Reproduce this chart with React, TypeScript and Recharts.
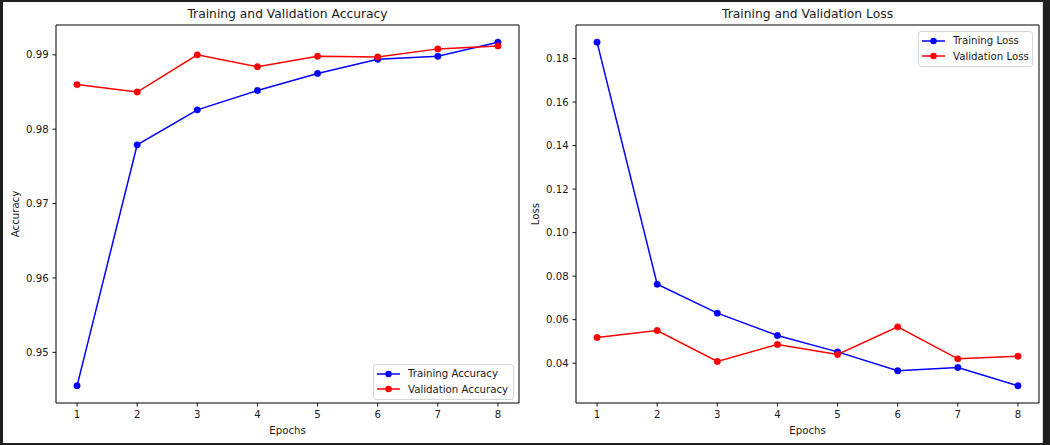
import { Line, LineChart, ReferenceArea, XAxis, YAxis } from "recharts";

const epochs = [1, 2, 3, 4, 5, 6, 7, 8];

const trainAcc = [0.9455, 0.9779, 0.9826, 0.9852, 0.9875, 0.9894, 0.9898, 0.9917];
const valAcc = [0.986, 0.985, 0.99, 0.9884, 0.9898, 0.9897, 0.9908, 0.9912];

const trainLoss = [0.1875, 0.0763, 0.063, 0.0527, 0.0452, 0.0365, 0.038, 0.0296];
const valLoss = [0.0518, 0.055, 0.0408, 0.0486, 0.044, 0.0567, 0.042, 0.0432];

const epochTicks = [1, 2, 3, 4, 5, 6, 7, 8];
const accTicks = [0.95, 0.96, 0.97, 0.98, 0.99];
const lossTicks = [0.04, 0.06, 0.08, 0.1, 0.12, 0.14, 0.16, 0.18];

const font = '"DejaVu Sans", sans-serif';
const ink = "#1a1a1a";
const trainColor = "#0000ff";
const valColor = "#ff0000";

// matplotlib style 5% margins
function pad(lo: number, hi: number): [number, number] {
  const m = (hi - lo) * 0.05;
  return [lo - m, hi + m];
}

function LegendBox({
  names,
  left,
  top,
  width,
}: {
  names: string[];
  left: number;
  top: number;
  width: number;
}) {
  const colors = [trainColor, valColor];
  return (
    <div
      style={{
        position: "absolute",
        left,
        top,
        width,
        boxSizing: "border-box",
        padding: "1px 0 2px 3px",
        background: "rgba(255,255,255,0.8)",
        border: "1px solid #d6d6d6",
        borderRadius: 3,
        fontSize: 10.2,
        color: ink,
      }}
    >
      {names.map((n, i) => (
        <div key={n} style={{ display: "flex", alignItems: "center", height: 15.5 }}>
          <svg width={23} height={10} style={{ marginRight: 8 }}>
            <line x1={0} y1={5} x2={23} y2={5} stroke={colors[i]} strokeWidth={1.5} />
            <circle cx={11.5} cy={5} r={3.2} fill={colors[i]} />
          </svg>
          <span style={{ whiteSpace: "nowrap" }}>{n}</span>
        </div>
      ))}
    </div>
  );
}

function Panel({
  left,
  title,
  ylabel,
  train,
  val,
  yTicks,
  names,
  legendPos,
}: {
  left: number;
  title: string;
  ylabel: string;
  train: number[];
  val: number[];
  yTicks: number[];
  names: string[];
  legendPos: { left: number; top: number; width: number };
}) {
  const data = epochs.map((e, i) => ({ epoch: e, train: train[i], val: val[i] }));
  const all = [...train, ...val];
  const yDomain = pad(Math.min(...all), Math.max(...all));
  const xDomain: [number, number] = [0.65, 8.35];
  const W = 525;
  const H = 445;
  const plotLeft = 56;
  const plotRight = W - 6;
  const cx = (plotLeft + plotRight) / 2;

  return (
    <div style={{ position: "absolute", left, top: 0, width: W, height: H }}>
      <LineChart width={W} height={H} data={data} margin={{ top: 25, right: 6, bottom: 12, left: 0 }}>
        <XAxis
          dataKey="epoch"
          type="number"
          domain={xDomain}
          ticks={epochTicks}
          height={30}
          tickSize={3.6}
          tickMargin={4}
          tick={{ fill: ink, fontSize: 10.2, fontFamily: font }}
          tickLine={{ stroke: "#000", strokeWidth: 0.9 }}
          axisLine={false}
          allowDataOverflow
        />
        <YAxis
          type="number"
          domain={yDomain}
          ticks={yTicks}
          width={56}
          tickSize={3.6}
          tickMargin={3.6}
          tickFormatter={(v: number) => v.toFixed(2)}
          tick={{ fill: ink, fontSize: 10.2, fontFamily: font }}
          tickLine={{ stroke: "#000", strokeWidth: 0.9 }}
          axisLine={false}
          allowDataOverflow
        />
        {/* axes frame (all four spines) */}
        <ReferenceArea
          x1={xDomain[0]}
          x2={xDomain[1]}
          y1={yDomain[0]}
          y2={yDomain[1]}
          fill="none"
          stroke="#000"
          strokeOpacity={1}
          strokeWidth={1}
          ifOverflow="visible"
        />
        <Line
          type="linear"
          dataKey="train"
          stroke={trainColor}
          strokeWidth={1.5}
          dot={{ r: 3.2, fill: trainColor, stroke: trainColor, strokeWidth: 0.5 }}
          activeDot={false}
          isAnimationActive={false}
        />
        <Line
          type="linear"
          dataKey="val"
          stroke={valColor}
          strokeWidth={1.5}
          dot={{ r: 3.2, fill: valColor, stroke: valColor, strokeWidth: 0.5 }}
          activeDot={false}
          isAnimationActive={false}
        />
      </LineChart>

      <div
        style={{
          position: "absolute",
          left: cx,
          top: 14,
          transform: "translate(-50%, -50%)",
          fontSize: 12.3,
          color: ink,
          whiteSpace: "nowrap",
        }}
      >
        {title}
      </div>
      <div
        style={{
          position: "absolute",
          left: 15,
          top: 214,
          transform: "translate(-50%, -50%) rotate(-90deg)",
          fontSize: 10.2,
          color: ink,
          whiteSpace: "nowrap",
        }}
      >
        {ylabel}
      </div>
      <div
        style={{
          position: "absolute",
          left: cx,
          top: 430,
          transform: "translate(-50%, -50%)",
          fontSize: 10.2,
          color: ink,
          whiteSpace: "nowrap",
        }}
      >
        Epochs
      </div>
      <LegendBox names={names} {...legendPos} />
    </div>
  );
}

export default function App() {
  return (
    <div
      style={{
        position: "absolute",
        left: 0,
        top: 0,
        width: 1050,
        height: 445,
        background: "#1f1f1f",
        fontFamily: font,
        overflow: "hidden",
      }}
    >
      <div
        style={{
          position: "absolute",
          left: 3,
          top: 2,
          width: 1039,
          height: 441,
          background: "#ffffff",
          borderRight: "1px solid #dcdcdc",
        }}
      />
      <Panel
        left={0}
        title="Training and Validation Accuracy"
        ylabel="Accuracy"
        train={trainAcc}
        val={valAcc}
        yTicks={accTicks}
        names={["Training Accuracy", "Validation Accuracy"]}
        legendPos={{ left: 373, top: 364, width: 141 }}
      />
      <Panel
        left={520}
        title="Training and Validation Loss"
        ylabel="Loss"
        train={trainLoss}
        val={valLoss}
        yTicks={lossTicks}
        names={["Training Loss", "Validation Loss"]}
        legendPos={{ left: 398, top: 31, width: 115 }}
      />
    </div>
  );
}
